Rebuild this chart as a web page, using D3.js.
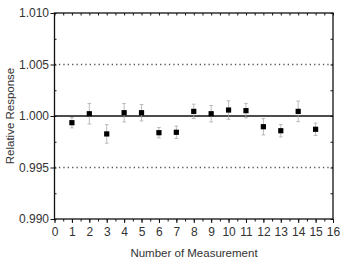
<html>
<script src="https://d3js.org/d3.v7.min.js"></script>
<style>
  body {margin: 0; background: #fff;}
  text {font-family: "Liberation Sans", Arial, sans-serif; fill: #333;}
</style>
<body>
<svg width="340" height="266"></svg>
<script>
// data
const measurement = [1, 2, 3, 4, 5, 6, 7, 8, 9, 10, 11, 12, 13, 14, 15];
const response = [0.99935, 1.00022, 0.99826, 1.00032, 1.00032, 0.99838, 0.99842, 1.00045,
                  1.00022, 1.00058, 1.00052, 0.99896, 0.99857, 1.00045, 0.99871];
const errors = [0.0005, 0.001, 0.0009, 0.0009, 0.0008, 0.0005, 0.0006, 0.0007,
                0.0008, 0.0009, 0.0007, 0.0008, 0.0006, 0.001, 0.0006];
const xTicks = d3.range(0, 17);
const yTicks = [0.990, 0.995, 1.000, 1.005, 1.010];
const refLines = [0.995, 1.005];

const svg = d3.select('svg');
const pl = 54.5, pr = 333, pt = 13, pb = 219;

const xs = d3.scaleLinear().domain([0, 16]).range([pl, pr]);
const ys = d3.scaleLinear().domain([0.990, 1.010]).range([pb, pt]);

// dotted reference lines
svg.selectAll('line.ref')
  .data(refLines).enter().append('line')
  .attr('x1', pl).attr('x2', pr)
  .attr('y1', d => ys(d)).attr('y2', d => ys(d))
  .attr('stroke', '#555').attr('stroke-width', 1.3)
  .attr('stroke-dasharray', '1.3,3.1');

// solid line at 1.000
svg.append('line')
  .attr('x1', pl).attr('x2', pr)
  .attr('y1', ys(1)).attr('y2', ys(1))
  .attr('stroke', '#111').attr('stroke-width', 1.3);

// axes
const minorX = d3.range(0, 16.01, 0.5);
const minorY = d3.range(0.990, 1.0101, 0.0025);

svg.append('g').attr('transform', `translate(0,${pb})`)
  .call(d3.axisBottom(xs).tickValues(minorX).tickSize(2.5).tickFormat(''))
  .call(g => g.select('.domain').remove());
svg.append('g').attr('transform', `translate(0,${pb})`)
  .call(d3.axisBottom(xs).tickValues(xTicks).tickSize(4).tickPadding(4.5).tickFormat(d3.format('d')))
  .call(g => g.select('.domain').remove())
  .selectAll('text').style('font-size', '12px').attr('fill', '#333');

svg.append('g').attr('transform', `translate(0,${pt})`)
  .call(d3.axisBottom(xs).tickValues(minorX).tickSize(2.5).tickFormat(''))
  .call(g => g.select('.domain').remove());

svg.append('g').attr('transform', `translate(${pl},0)`)
  .call(d3.axisRight(ys).tickValues(minorY).tickSize(2).tickFormat(''))
  .call(g => g.select('.domain').remove());
svg.append('g').attr('transform', `translate(${pl},0)`)
  .call(d3.axisLeft(ys).tickValues(yTicks).tickSize(4).tickPadding(1.5).tickFormat(d3.format('.3f')))
  .call(g => g.select('.domain').remove())
  .selectAll('text').style('font-size', '12px').attr('fill', '#333');

svg.append('g').attr('transform', `translate(${pr},0)`)
  .call(d3.axisLeft(ys).tickValues(minorY).tickSize(2.5).tickFormat(''))
  .call(g => g.select('.domain').remove());

svg.append('rect')
  .attr('x', pl).attr('y', pt)
  .attr('width', pr - pl).attr('height', pb - pt)
  .attr('fill', 'none').attr('stroke', '#111').attr('stroke-width', 1.3);

svg.selectAll('.tick line').attr('stroke', '#111');

// error bars
const eb = svg.append('g').attr('stroke', '#aaa').attr('stroke-width', 0.8);
measurement.forEach((m, i) => {
  const x = xs(m), y1 = ys(response[i] + errors[i]), y2 = ys(response[i] - errors[i]);
  eb.append('line').attr('x1', x).attr('x2', x).attr('y1', y1).attr('y2', y2);
  eb.append('line').attr('x1', x - 1.8).attr('x2', x + 1.8).attr('y1', y1).attr('y2', y1);
  eb.append('line').attr('x1', x - 1.8).attr('x2', x + 1.8).attr('y1', y2).attr('y2', y2);
});

// points
svg.selectAll('rect.pt')
  .data(measurement).enter().append('rect')
  .attr('x', d => xs(d) - 2.6)
  .attr('y', (d, i) => ys(response[i]) - 2.6)
  .attr('width', 5.2).attr('height', 5.2)
  .attr('fill', '#000');

// axis titles
svg.append('text')
  .attr('transform', `translate(14,${(pt + pb) / 2}) rotate(-90)`)
  .style('text-anchor', 'middle').style('font-size', '11.5px')
  .text('Relative Response');

svg.append('text')
  .attr('x', 194).attr('y', 257)
  .style('text-anchor', 'middle').style('font-size', '11.5px')
  .text('Number of Measurement');
</script>
</body>
</html>
